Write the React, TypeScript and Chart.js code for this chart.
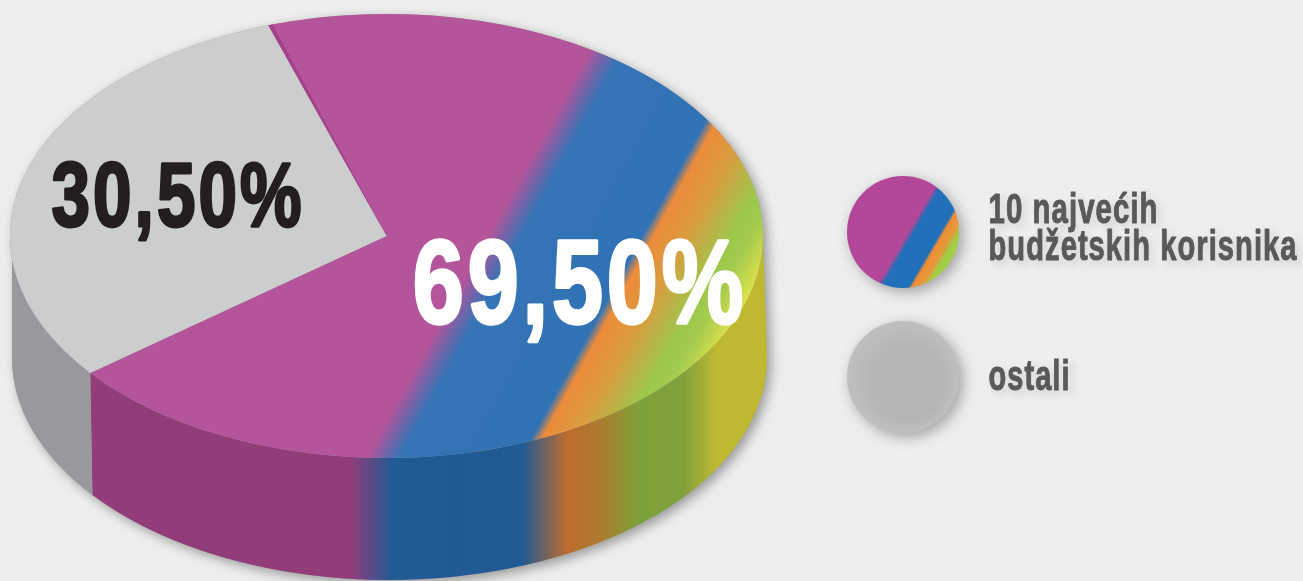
import React, { useEffect, useRef } from "react";
import { Chart, registerables } from "chart.js";
Chart.register(...registerables);

const categories = ["10 najvećih budžetskih korisnika", "ostali"];
const legendLines = [["10 najvećih", "budžetskih korisnika"], ["ostali"]];
const shareValues = [69.5, 30.5];
const shareLabels = ["69,50%", "30,50%"];

const W = 1303, H = 581;
const FONT = '"Liberation Sans Narrow", "Liberation Sans", sans-serif';

// Projected ellipse of the top of the pie and of the bottom of the wall
const TOP = { cx: 386.5, cy: 236, rx: 376.5, ry: 222 };
const BOT = { cx: 389.5, cy: 358, rx: 377.5, ry: 222 };

// Colour bands: position along the diagonal (0.876, 0.481), colour
const topBands: [number, string][] = [
  [541, "#b4549b"], [570, "#3674b6"], [676, "#2f72b5"], [686, "#ec8b3b"], [715, "#d99c3e"],
  [755, "#9cc84c"], [772, "#a5cb4e"], [800, "#e0e24a"],
];
const wallBands: [number, string][] = [
  [350, "#933c7a"], [393, "#215a94"], [523, "#225b93"], [567, "#bd6b2e"], [600, "#ae7a30"],
  [640, "#7da13a"], [683, "#80a03b"], [717, "#bfb932"], [767, "#bfb932"],
];
const swatchBands: [number, string][] = [
  [901, "#b3479a"], [906, "#2370b9"], [929, "#2070b8"], [932, "#f08c34"], [940, "#e39a3a"],
  [945, "#a2cc45"], [953, "#a8cf48"], [958, "#e4e64a"],
];

function diagonal(ctx: CanvasRenderingContext2D, nx: number, ny: number, bands: [number, string][], sx = 1, sy = 1, ox = 0, oy = 0, ix = 0, iy = 0) {
  // image position = ox + sx*(x-ix), oy + sy*(y-iy); isolines of nx*X+ny*Y stay straight in the untransformed space
  const gx = nx * sx, gy = ny * sy, g2 = gx * gx + gy * gy;
  const f0 = nx * (ox - sx * ix) + ny * (oy - sy * iy);
  const t0 = bands[0][0], t1 = bands[bands.length - 1][0];
  const p = (t: number) => [((t - f0) * gx) / g2, ((t - f0) * gy) / g2];
  const a = p(t0), b = p(t1);
  const grad = ctx.createLinearGradient(a[0], a[1], b[0], b[1]);
  bands.forEach(([t, c]) => grad.addColorStop((t - t0) / (t1 - t0), c));
  return grad;
}

function fitText(ctx: CanvasRenderingContext2D, text: string, x: number, y: number, width: number, size: number, stroke: number, spacing: number) {
  ctx.font = `bold ${size}px ${FONT}`;
  ctx.textAlign = "left";
  ctx.textBaseline = "alphabetic";
  (ctx as any).letterSpacing = `${spacing}px`;
  const m = ctx.measureText(text).width - spacing;
  ctx.save();
  ctx.translate(x + stroke / 2, y);
  ctx.scale((width - stroke) / m, 1);
  if (stroke > 0) {
    ctx.lineWidth = stroke;
    ctx.lineJoin = "round";
    ctx.strokeStyle = ctx.fillStyle as string;
    ctx.strokeText(text, 0, 0);
    ctx.shadowColor = "transparent";
  }
  ctx.fillText(text, 0, 0);
  ctx.restore();
  (ctx as any).letterSpacing = "0px";
}

const pie3d = {
  id: "pie3d",
  beforeDatasetsDraw(chart: any) {
    const ctx: CanvasRenderingContext2D = chart.ctx;
    const arcs = chart.getDatasetMeta(0).data;
    // drop shadow of the whole disc
    ctx.save();
    ctx.shadowColor = "rgba(0,0,0,0.36)";
    ctx.shadowBlur = 12;
    ctx.shadowOffsetX = 4;
    ctx.shadowOffsetY = 4;
    ctx.fillStyle = "#999";
    ctx.beginPath();
    ctx.ellipse(TOP.cx, TOP.cy, TOP.rx, TOP.ry, 0, 0, Math.PI * 2);
    ctx.closePath();
    ctx.moveTo(TOP.cx - TOP.rx + 2, BOT.cy - 101);
    ctx.lineTo(TOP.cx + TOP.rx, TOP.cy);
    ctx.lineTo(BOT.cx + BOT.rx, BOT.cy);
    ctx.ellipse(BOT.cx, BOT.cy, BOT.rx, BOT.ry, 0, 0, Math.PI, false);
    ctx.closePath();
    ctx.fill();
    ctx.restore();
    // wall of each slice, where it faces the viewer
    const w0 = wallBands[0][0], w1 = wallBands[wallBands.length - 1][0];
    const wallGrad = ctx.createLinearGradient(w0, 0, w1, 0);
    wallBands.forEach(([x, c]) => wallGrad.addColorStop((x - w0) / (w1 - w0), c));
    const wallFills = [wallGrad, "#98999c"];
    ctx.save();
    ctx.beginPath();
    ctx.rect(BOT.cx - BOT.rx, 0, W, H);
    ctx.clip();
    arcs.forEach((arc: any, i: number) => {
      const tau = Math.PI * 2;
      let s = arc.startAngle, e = arc.endAngle;
      while (s < -Math.PI) { s += tau; e += tau; }
      const a0 = Math.max(s, 0), a1 = Math.min(e, Math.PI);
      if (a1 <= a0) return;
      ctx.fillStyle = wallFills[i];
      ctx.beginPath();
      ctx.ellipse(TOP.cx, TOP.cy, TOP.rx, TOP.ry, 0, a0, a1, false);
      ctx.ellipse(BOT.cx, BOT.cy, BOT.rx, BOT.ry, 0, a1, a0, true);
      ctx.closePath();
      ctx.fill();
    });
    ctx.restore();
  },
  beforeDatasetDraw(chart: any) {
    const arc = chart.getDatasetMeta(0).data[0];
    const ctx = chart.ctx;
    ctx.save();
    ctx.translate(TOP.cx, TOP.cy);
    ctx.scale(TOP.rx / arc.outerRadius, TOP.ry / arc.outerRadius);
    ctx.translate(-arc.x, -arc.y);
  },
  afterDatasetDraw(chart: any) {
    const arc = chart.getDatasetMeta(0).data[0];
    const ctx = chart.ctx;
    // darker bevel where the coloured slice meets the grey one at the back
    ctx.fillStyle = "#a5418b";
    ctx.beginPath();
    ctx.moveTo(arc.x, arc.y);
    ctx.arc(arc.x, arc.y, arc.outerRadius, arc.startAngle, arc.startAngle + 0.012);
    ctx.closePath();
    ctx.fill();
    ctx.restore();
  },
  afterDraw(chart: any) {
    const ctx: CanvasRenderingContext2D = chart.ctx;
    // value labels
    ctx.fillStyle = "#ffffff";
    fitText(ctx, shareLabels[0], 411, 323, 334, 118, 3.5, 5);
    ctx.fillStyle = "#231f20";
    fitText(ctx, shareLabels[1], 50, 226, 253, 90, 3, 4);
    // legend swatches
    ctx.save();
    ctx.shadowColor = "rgba(0,0,0,0.32)";
    ctx.shadowBlur = 14;
    ctx.shadowOffsetX = 4;
    ctx.shadowOffsetY = 4;
    ctx.fillStyle = diagonal(ctx, 0.863, 0.505, swatchBands);
    ctx.beginPath();
    ctx.arc(903, 232, 56, 0, Math.PI * 2);
    ctx.fill();
    const rg = ctx.createRadialGradient(908, 382, 38, 903, 377, 58);
    rg.addColorStop(0, "#b5b6b8");
    rg.addColorStop(1, "#bfc0c2");
    ctx.fillStyle = rg;
    ctx.beginPath();
    ctx.arc(903, 377, 56, 0, Math.PI * 2);
    ctx.fill();
    ctx.restore();
    // legend text
    ctx.save();
    ctx.shadowColor = "rgba(0,0,0,0.33)";
    ctx.shadowBlur = 8;
    ctx.shadowOffsetX = 4;
    ctx.shadowOffsetY = 4;
    ctx.fillStyle = "#58595b";
    fitText(ctx, legendLines[0][0], 988, 223, 170, 42, 1, 1.5);
    fitText(ctx, legendLines[0][1], 988, 260, 309, 42, 1, 1.5);
    fitText(ctx, legendLines[1][0], 988, 390, 82, 42, 1, 1.5);
    ctx.restore();
  },
};

export default function App() {
  const ref = useRef<HTMLCanvasElement>(null);
  useEffect(() => {
    const canvas = ref.current!;
    const ctx = canvas.getContext("2d")!;
    const R = H / 2;
    const topFill = diagonal(ctx, 0.876, 0.481, topBands, TOP.rx / R, TOP.ry / R, TOP.cx, TOP.cy, W / 2, H / 2);
    const chart = new Chart(canvas, {
      type: "pie",
      data: {
        labels: categories,
        datasets: [{ data: shareValues, backgroundColor: [topFill, "#cbcdce"], borderWidth: 0 }],
      },
      options: {
        responsive: false,
        animation: false,
        rotation: -18.3,
        events: [],
        plugins: { legend: { display: false }, tooltip: { enabled: false } },
      },
      plugins: [pie3d],
    } as any);
    return () => chart.destroy();
  }, []);
  return (
    <div style={{ position: "absolute", left: 0, top: 0, width: W, height: H, background: "#eeeeee", overflow: "hidden" }}>
      <canvas ref={ref} width={W} height={H} style={{ display: "block" }} />
    </div>
  );
}
